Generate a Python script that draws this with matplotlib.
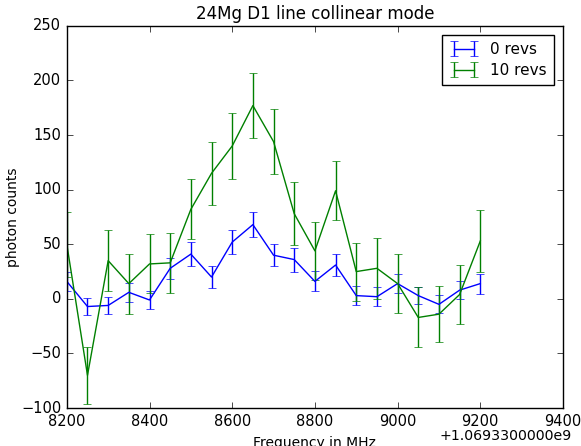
import numpy as np
import matplotlib
matplotlib.use("Agg")
import matplotlib.pyplot as plt

plt.style.use("classic")

# frequency offsets (MHz) relative to base
base_label = "+1.0693300000e9"
freq = np.arange(8200, 9201, 50)

counts_0 = [16, -7, -6, 6, -1, 28, 41, 20, 52, 68, 40, 36, 16, 31,
            3, 2, 14, 3, -5, 8, 14]
err_0 = [9, 8, 8, 9, 8, 9.6, 10.7, 10, 11.3, 11.5, 10.2, 11, 9.2, 10,
         8.6, 8.7, 8.7, 8, 8.2, 8.4, 9.2]

counts_10 = [50, -70, 35, 14, 32, 33, 82, 115, 140, 177, 144, 78, 44, 99,
             25, 28, 14, -17, -14, 4, 53]
err_10 = [30, 26, 28, 27.5, 27, 27.6, 27.6, 28.6, 30, 29.6, 29.5, 29, 26.5, 27,
          26.6, 28, 27, 27.5, 25.7, 27, 28]

fig = plt.figure(figsize=(5.81, 4.46), dpi=100)
ax = fig.add_subplot(111)
fig.subplots_adjust(left=0.115, right=0.969, bottom=0.085, top=0.942)

ax.errorbar(freq, counts_0, yerr=err_0, color="b", label="0 revs")
ax.errorbar(freq, counts_10, yerr=err_10, color="g", label="10 revs")

ax.set_xlim(8200, 9400)
ax.set_ylim(-100, 250)
ax.set_xticks(np.arange(8200, 9401, 200))

# offset text as in the original axis formatter
ax.text(1.018, -0.074, base_label, transform=ax.transAxes,
        ha="right", va="center", fontsize=10.2)

ax.set_title("24Mg D1 line collinear mode", fontsize=12)
ax.set_xlabel("Frequency in MHz", fontsize=10)
ax.set_ylabel("photon counts", fontsize=10, labelpad=1)
ax.tick_params(labelsize=10.5)
ax.legend(loc="upper right", fontsize=11, labelspacing=0.4,
          handlelength=1.9, borderpad=0.45, borderaxespad=0.6)

fig.savefig("out.png", dpi=100)
